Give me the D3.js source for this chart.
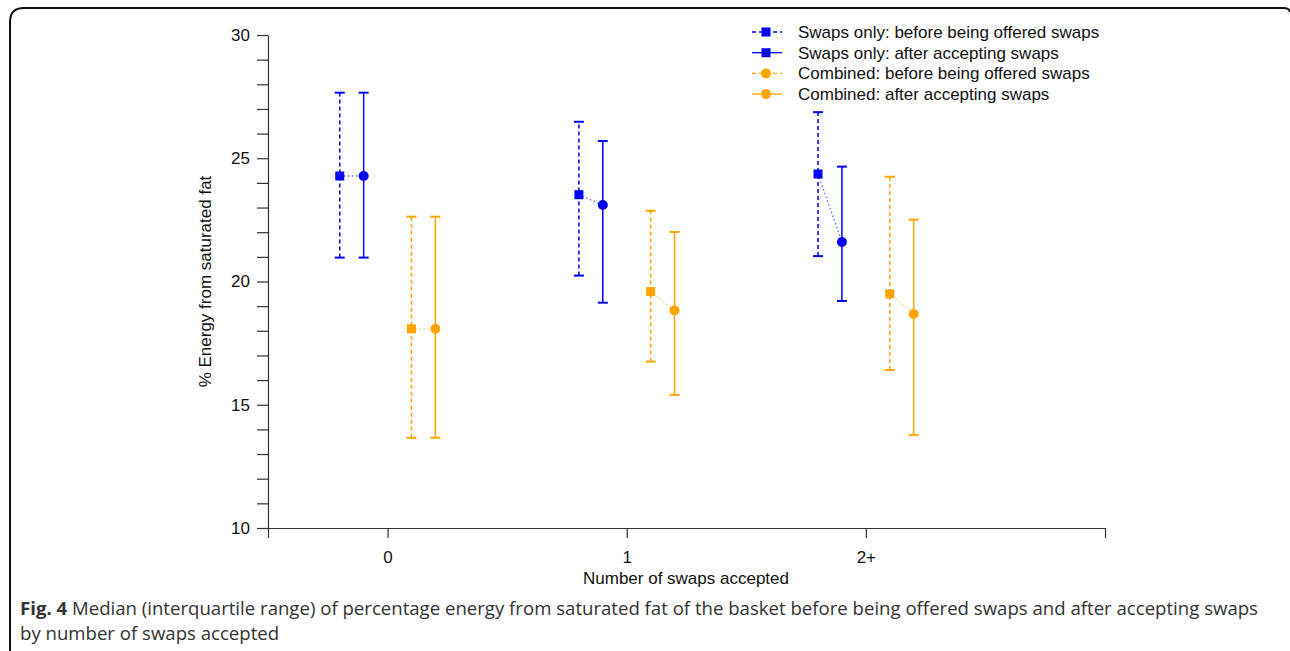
<!DOCTYPE html>
<html>
<head>
<meta charset="utf-8">
<script src="https://cdn.jsdelivr.net/npm/d3@7/dist/d3.min.js"></script>
<style>
  body { margin: 0; background: #fff; }
  svg text { font-family: "Liberation Sans", Arial, sans-serif; }
</style>
</head>
<body>
<div id="graph"></div>
<script>
// medians and interquartile ranges, one row per series, one column per category
var categories = ["0", "1", "2+"];
var seriesNames = [
   "Swaps only: before being offered swaps",
   "Swaps only: after accepting swaps",
   "Combined: before being offered swaps",
   "Combined: after accepting swaps"];

var medians = [
   [24.28, 23.52, 24.36],
   [24.28, 23.10, 21.60],
   [18.08, 19.59, 19.50],
   [18.08, 18.82, 18.68]];
var lowerQ = [
   [20.97, 20.24, 21.03],
   [20.97, 19.14, 19.21],
   [13.66, 16.75, 16.41],
   [13.66, 15.40, 13.77]];
var upperQ = [
   [27.66, 26.48, 26.87],
   [27.66, 25.70, 24.66],
   [22.63, 22.87, 24.25],
   [22.63, 22.01, 22.51]];

var yTicks = d3.range(10, 31, 1);
var yLabels = [10, 15, 20, 25, 30];

// drawing style for each series
var styles = [
   {color: "#0000ff", dash: "4,3", shape: "square", shift: -0.2},
   {color: "#0000ff", dash: null, shape: "circle", shift: -0.1},
   {color: "#ffa500", dash: "4,3", shape: "square", shift: 0.1},
   {color: "#ffa500", dash: null, shape: "circle", shift: 0.2}];
var legendShapes = ["square", "square", "circle", "circle"];

var width = 1290;
var height = 651;
var fontSize = "17px";

var svg = d3.select("#graph").
append("svg").
attr("width", width).
attr("height", height);

// frame around the figure
svg.append("path").
attr("d", "M10,651 L10,22 Q10,8 24,8 L1284,8 Q1289,8 1290,12").
attr("fill", "none").
attr("stroke", "#111").
attr("stroke-width", 2);

var xScale = d3.scaleLinear().
domain([-0.5, 3]).
range([268, 1105]);

var yScale = d3.scaleLinear().
domain([10, 30]).
range([528, 35]);

var xAxis = d3.axisBottom(xScale).
tickValues([-0.5, 0, 1, 2, 3]).
tickSize(10).
tickSizeOuter(0).
tickPadding(13).
tickFormat(function (d) {
   return Number.isInteger(d) && d < categories.length ? categories[d] : "";
});

var yAxis = d3.axisLeft(yScale).
tickValues(yTicks).
tickSize(11).
tickSizeOuter(0).
tickPadding(7).
tickFormat(function (d) {return yLabels.indexOf(d) >= 0 ? d : "";});

var gx = svg.append("g").
attr("transform", "translate(0," + yScale(10) + ")").
call(xAxis);

var gy = svg.append("g").
attr("transform", "translate(" + xScale(-0.5) + ",0)").
call(yAxis);

[gx, gy].forEach(function (g) {
   g.selectAll("path, line").attr("stroke", "#333").attr("stroke-width", 1.2);
   g.selectAll("text").
   style("font-size", fontSize).
   style("font-family", "Liberation Sans, Arial, sans-serif").
   attr("fill", "#111");
});

svg.append("text").
attr("x", 686).
attr("y", 584).
style("text-anchor", "middle").
style("font-size", fontSize).
attr("fill", "#111").
text("Number of swaps accepted");

svg.append("text").
attr("transform", "translate(211," + yScale(20) + ") rotate(-90)").
style("text-anchor", "middle").
style("font-size", fontSize).
attr("fill", "#111").
text("% Energy from saturated fat");

// dotted links between before and after for each colour
[[0, 1], [2, 3]].forEach(function (pair) {
   categories.forEach(function (c, i) {
      svg.append("line").
      attr("x1", xScale(i + styles[pair[0]].shift)).
      attr("y1", yScale(medians[pair[0]][i])).
      attr("x2", xScale(i + styles[pair[1]].shift)).
      attr("y2", yScale(medians[pair[1]][i])).
      attr("stroke", styles[pair[0]].color).
      attr("stroke-opacity", 0.6).
      attr("stroke-width", 1.3).
      attr("stroke-dasharray", "1.5,2.5");
   });
});

function drawMarker(g, shape, x, y, color) {
   if (shape === "square") {
      g.append("rect").
      attr("x", x - 4.5).
      attr("y", y - 4.5).
      attr("width", 9).
      attr("height", 9).
      attr("fill", color);
   } else {
      g.append("circle").
      attr("cx", x).
      attr("cy", y).
      attr("r", 5).
      attr("fill", color);
   }
}

styles.forEach(function (s, k) {
   var g = svg.append("g");
   categories.forEach(function (c, i) {
      var x = xScale(i + s.shift);
      g.append("line").
      attr("x1", x).attr("x2", x).
      attr("y1", yScale(lowerQ[k][i])).
      attr("y2", yScale(upperQ[k][i])).
      attr("stroke", s.color).
      attr("stroke-width", 1.5).
      attr("stroke-dasharray", s.dash);
      [lowerQ[k][i], upperQ[k][i]].forEach(function (v) {
         g.append("line").
         attr("x1", x - 5).attr("x2", x + 5).
         attr("y1", yScale(v)).attr("y2", yScale(v)).
         attr("stroke", s.color).
         attr("stroke-width", 2);
      });
      drawMarker(g, s.shape, x, yScale(medians[k][i]), s.color);
   });
});

// legend
var legend = svg.append("g").attr("transform", "translate(752,32)");
seriesNames.forEach(function (name, k) {
   var row = legend.append("g").attr("transform", "translate(0," + k * 20.7 + ")");
   row.append("line").
   attr("x1", 0).attr("x2", 30).
   attr("y1", 0).attr("y2", 0).
   attr("stroke", styles[k].color).
   attr("stroke-width", 1.3).
   attr("stroke-dasharray", styles[k].dash);
   drawMarker(row, legendShapes[k], 14, 0, styles[k].color);
   row.append("text").
   attr("x", 46).
   attr("y", 6).
   style("font-size", fontSize).
   attr("fill", "#111").
   text(name);
});

// caption
var caption = svg.append("text").
attr("x", 20).
style("font-family", "Open Sans, sans-serif").
style("font-size", "18.6px").
attr("fill", "#333");
var line1 = caption.append("tspan").attr("x", 20).attr("y", 615);
line1.append("tspan").style("font-weight", "bold").text("Fig. 4");
line1.append("tspan").text(" Median (interquartile range) of percentage energy from saturated fat of the basket before being offered swaps and after accepting swaps");
caption.append("tspan").attr("x", 20).attr("y", 640).text("by number of swaps accepted");
</script>
</body>
</html>
